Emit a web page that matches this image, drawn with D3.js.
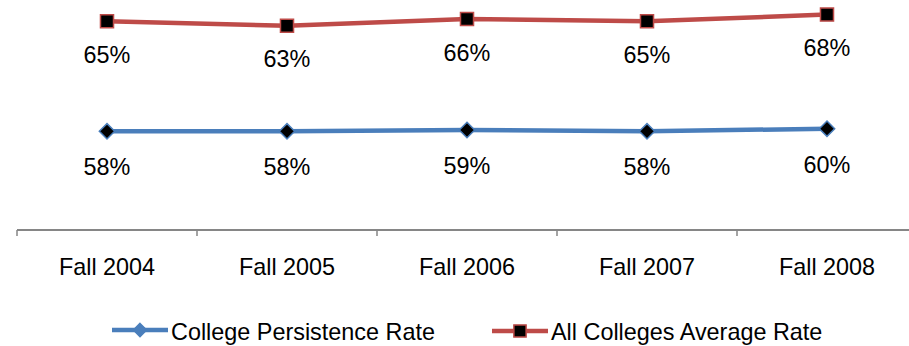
<!DOCTYPE html>
<html>
<head>
<meta charset="utf-8">
<script src="https://cdn.jsdelivr.net/npm/d3@7"></script>
<style>
  html, body { margin: 0; padding: 0; background: #fff; }
  svg { display: block; font-family: "Liberation Sans", Arial, sans-serif; }
</style>
</head>
<body>
<svg id="chart" width="909" height="346"></svg>
<script>
// Persistence rates by fall cohort
const categories = ["Fall 2004", "Fall 2005", "Fall 2006", "Fall 2007", "Fall 2008"];
const collegeRate = [0.58, 0.58, 0.59, 0.58, 0.60];
const allCollegesRate = [0.65, 0.63, 0.66, 0.65, 0.68];
const seriesNames = ["College Persistence Rate", "All Colleges Average Rate"];

const blue = "#4A7EBB";
const red = "#BE4B48";
const axisGray = "#868686";
const fontSize = "23.4px";

const svg = d3.select("#chart");

const x = d3.scaleBand().domain(categories).range([17, 917]);
const cx = c => x(c) + x.bandwidth() / 2;

// each series sits on its own (hidden) value axis
const yBlue = d3.scaleLinear().domain([0.50, 0.70]).range([141.7, 115.7]);
const yRed = d3.scaleLinear().domain([0.60, 0.70]).range([32.5, 10.1]);

// category axis
const axisY = 230;
const axisG = svg.append("g").attr("transform", `translate(0,${axisY})`);
axisG.append("line")
  .attr("x1", x.range()[0]).attr("x2", x.range()[1])
  .attr("y1", 0).attr("y2", 0)
  .attr("stroke", axisGray).attr("stroke-width", 2);
const edges = categories.map(c => x(c)).concat([x.range()[1]]);
axisG.selectAll("line.tick").data(edges).enter().append("line")
  .attr("class", "tick")
  .attr("x1", d => d).attr("x2", d => d)
  .attr("y1", 0).attr("y2", 6)
  .attr("stroke", axisGray).attr("stroke-width", 1.5);

const labelAxis = d3.axisBottom(x).tickSize(0).tickPadding(0);
const lg = svg.append("g").attr("transform", `translate(0,${axisY})`).call(labelAxis);
lg.select(".domain").remove();
lg.selectAll("text")
  .attr("y", 45).attr("dy", null)
  .attr("fill", "#000")
  .style("font-size", fontSize)
  .style("font-family", "'Liberation Sans', Arial, sans-serif");

function markerPath(shape, size) {
  return d3.symbol().type(shape === "square" ? d3.symbolSquare : d3.symbolDiamond2).size(size)();
}

function drawSeries(values, yScale, color, shape, labelOffset) {
  const pts = values.map((v, i) => ({ c: categories[i], v }));
  const line = d3.line().x(d => cx(d.c)).y(d => yScale(d.v));
  svg.append("path").datum(pts)
    .attr("d", line)
    .attr("fill", "none")
    .attr("stroke", color)
    .attr("stroke-width", 4.5)
    .attr("stroke-linejoin", "round");

  svg.append("g").selectAll("path").data(pts).enter().append("path")
    .attr("d", markerPath(shape, shape === "square" ? 170 : 150))
    .attr("transform", d => `translate(${cx(d.c)},${yScale(d.v)})`)
    .attr("fill", "#000")
    .attr("stroke", color)
    .attr("stroke-width", 1.5);

  svg.append("g").selectAll("text").data(pts).enter().append("text")
    .attr("x", d => cx(d.c))
    .attr("y", d => yScale(d.v) + labelOffset)
    .attr("text-anchor", "middle")
    .style("font-size", fontSize)
    .attr("fill", "#000")
    .text(d => d3.format(".0%")(d.v));
}

drawSeries(allCollegesRate, yRed, red, "square", 41.5);
drawSeries(collegeRate, yBlue, blue, "diamond", 44);

// legend
const legend = [
  { name: seriesNames[0], color: blue, shape: "diamond", x1: 112, x2: 168, y: 330, tx: 171, fill: blue, size: 110 },
  { name: seriesNames[1], color: red, shape: "square", x1: 492, x2: 548, y: 331, tx: 551, fill: "#000", size: 150 }
];
const lgG = svg.append("g");
legend.forEach(l => {
  lgG.append("line")
    .attr("x1", l.x1).attr("x2", l.x2).attr("y1", l.y).attr("y2", l.y)
    .attr("stroke", l.color).attr("stroke-width", 4.5);
  lgG.append("path")
    .attr("d", markerPath(l.shape, l.size))
    .attr("transform", `translate(${(l.x1 + l.x2) / 2},${l.y})`)
    .attr("fill", l.fill)
    .attr("stroke", l.color).attr("stroke-width", 1.5);
  lgG.append("text")
    .attr("x", l.tx).attr("y", 340)
    .style("font-size", fontSize)
    .attr("fill", "#000")
    .text(l.name);
});
</script>
</body>
</html>
